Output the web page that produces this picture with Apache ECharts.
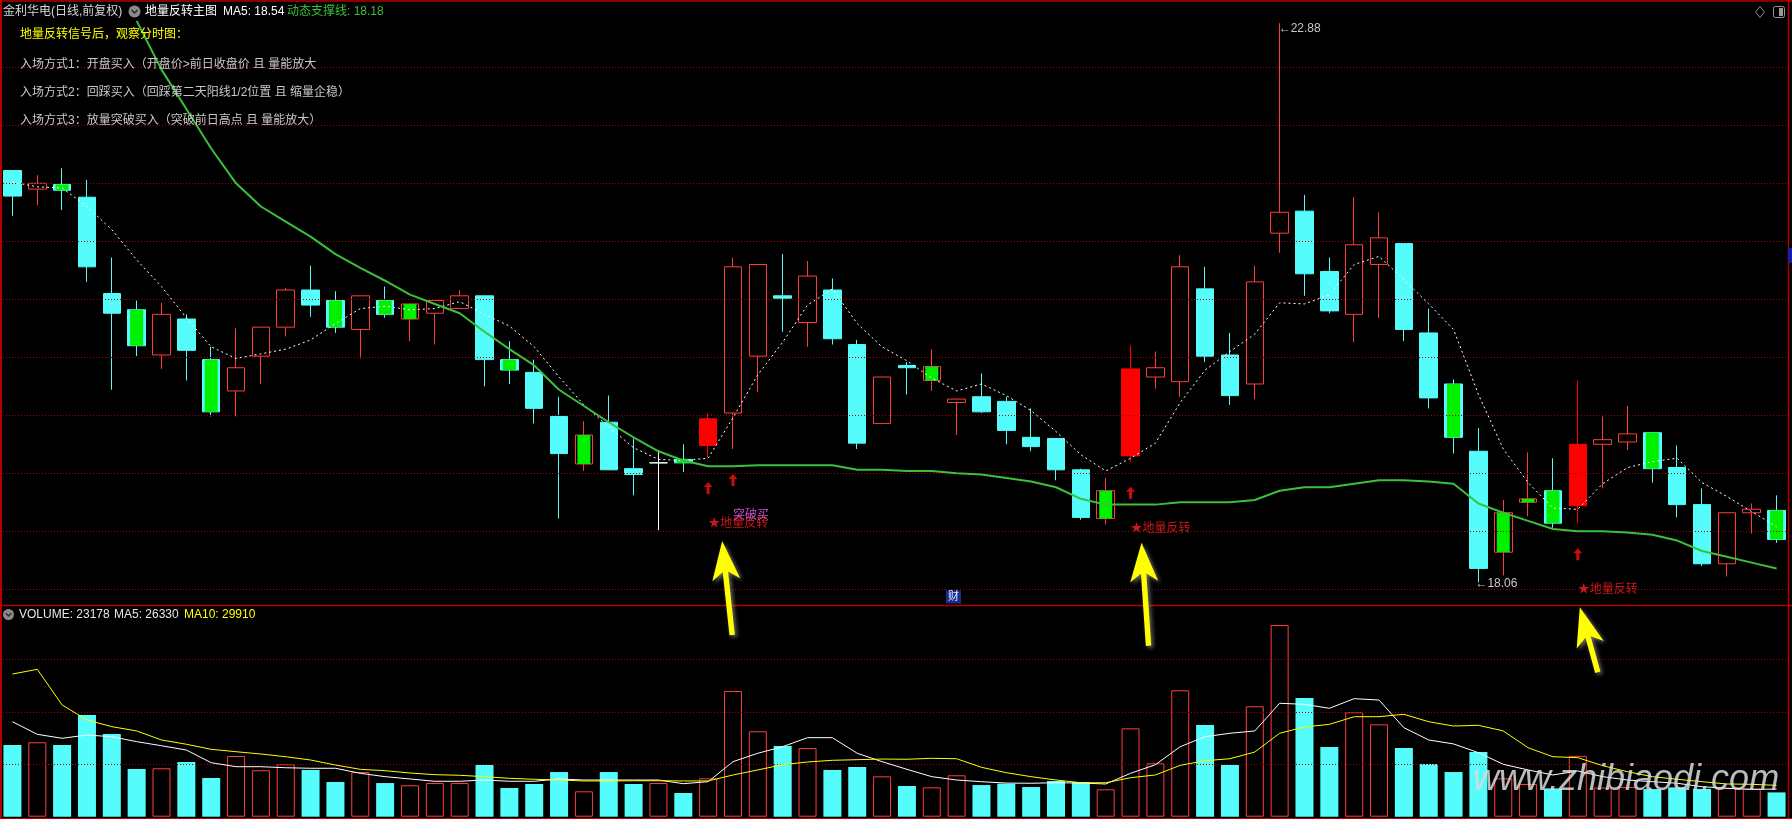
<!DOCTYPE html>
<html>
<head>
<meta charset="utf-8">
<title>金利华电 地量反转主图</title>
<script src="https://cdn.jsdelivr.net/npm/echarts@6.0.0/dist/echarts.min.js"></script>
<style>
html,body{margin:0;padding:0;background:#000;overflow:hidden;}
#chart{width:1792px;height:819px;}
</style>
</head>
<body>
<div id="chart"></div>
<script>
// ================= DATA =================
const openP = [
  21.61, 21.45, 21.49, 21.38, 20.55, 20.41, 20.02, 20.33, 19.98, 19.71,
  20.01, 20.26, 20.58, 20.49, 20.24, 20.49, 20.33, 20.38, 20.42, 20.53,
  19.98, 19.87, 19.49, 19.08, 19.44, 19.04, 19.09, 19.12, 19.24, 19.52,
  20.01, 20.53, 20.30, 20.58, 20.11, 19.43, 19.93, 19.80, 19.61, 19.66,
  19.62, 19.31, 19.30, 19.03, 18.61, 19.15, 19.83, 19.79, 20.59, 20.02,
  19.77, 21.07, 21.26, 20.74, 20.37, 20.80, 20.98, 20.21, 19.77, 19.19,
  18.32, 18.75, 18.85, 18.72, 19.25, 19.27, 19.35, 19.05, 18.73, 18.22,
  18.66, 18.68
];
const closeP = [
  21.39, 21.50, 21.44, 20.78, 20.38, 20.10, 20.37, 20.06, 19.53, 19.91,
  20.26, 20.58, 20.45, 20.26, 20.53, 20.37, 20.46, 20.49, 20.53, 19.98,
  19.89, 19.56, 19.17, 19.33, 19.03, 18.99, 19.09, 19.09, 19.47, 20.78,
  20.80, 20.51, 20.70, 20.16, 19.26, 19.83, 19.91, 19.92, 19.64, 19.53,
  19.37, 19.23, 19.03, 18.62, 18.85, 19.90, 19.91, 20.78, 20.01, 19.67,
  20.65, 21.25, 20.72, 20.40, 20.97, 21.03, 20.24, 19.65, 19.31, 18.18,
  18.66, 18.78, 18.57, 19.25, 19.29, 19.34, 19.04, 18.73, 18.22, 18.66,
  18.69, 18.43
];
const highP = [
  21.61, 21.57, 21.63, 21.53, 20.86, 20.49, 20.47, 20.37, 20.09, 20.25,
  20.26, 20.60, 20.79, 20.57, 20.53, 20.61, 20.46, 20.49, 20.58, 20.53,
  20.14, 19.98, 19.66, 19.45, 19.67, 19.30, 19.20, 19.25, 19.52, 20.86,
  20.80, 20.89, 20.83, 20.68, 20.15, 19.83, 19.96, 20.07, 19.64, 19.86,
  19.66, 19.56, 19.30, 19.04, 18.96, 20.10, 20.05, 20.88, 20.78, 20.21,
  20.79, 22.88, 21.40, 20.86, 21.38, 21.25, 20.98, 20.42, 19.81, 19.39,
  18.77, 19.18, 19.13, 19.80, 19.49, 19.58, 19.35, 19.24, 18.87, 18.66,
  18.74, 18.81
];
const lowP = [
  21.22, 21.31, 21.27, 20.65, 19.72, 20.01, 19.90, 19.80, 19.49, 19.49,
  19.77, 20.18, 20.35, 20.21, 19.99, 20.34, 20.14, 20.11, 20.42, 19.75,
  19.77, 19.43, 18.61, 19.02, 19.03, 18.81, 18.51, 19.01, 19.14, 19.21,
  19.70, 20.22, 20.09, 20.11, 19.21, 19.43, 19.68, 19.71, 19.33, 19.52,
  19.25, 19.19, 18.94, 18.60, 18.56, 19.10, 19.73, 19.66, 19.96, 19.59,
  19.64, 20.90, 20.53, 20.38, 20.13, 20.34, 20.14, 19.56, 19.17, 18.06,
  18.12, 18.63, 18.53, 18.57, 18.87, 19.20, 18.92, 18.62, 18.20, 18.11,
  18.48, 18.40
];
const volume = [
  68400, 71000, 68400, 97000, 78900, 45500, 46200, 52200, 36900, 57900,
  44300, 50000, 44600, 33100, 42600, 32100, 30000, 32100, 32100, 49300,
  27400, 31200, 42600, 24200, 42600, 31200, 32100, 22600, 36600, 119900,
  81500, 67400, 65500, 44600, 47400, 38500, 29300, 28000, 39500, 30200,
  31500, 28300, 34100, 33100, 26100, 84300, 50900, 120600, 87500, 49300,
  105300, 182900, 113200, 66500, 99600, 88100, 65500, 50300, 42600, 61700,
  36600, 31200, 27000, 58000, 27800, 28300, 26350, 28000, 26500, 27300,
  26672, 23178
];
const priceMA5 = [
  21.51, 21.47, 21.46, 21.30, 21.10, 20.84, 20.61, 20.34, 20.09, 19.99,
  20.03, 20.07, 20.15, 20.29, 20.42, 20.44, 20.41, 20.42, 20.48, 20.37,
  20.27, 20.09, 19.83, 19.59, 19.40, 19.22, 19.12, 19.11, 19.13, 19.48,
  19.85, 20.13, 20.45, 20.59, 20.29, 20.09, 19.97, 19.82, 19.71, 19.77,
  19.67, 19.54, 19.36, 19.16, 19.02, 19.13, 19.26, 19.61, 19.89, 20.05,
  20.20, 20.47, 20.46, 20.54, 20.80, 20.87, 20.67, 20.46, 20.24, 19.68,
  19.21, 18.92, 18.70, 18.69, 18.91, 19.05, 19.10, 19.13, 18.92, 18.80,
  18.67, 18.54
];
const supportLine = [
  null, null, null, null, null, 22.90, 22.48, 22.14, 21.80, 21.50,
  21.30, 21.17, 21.04, 20.89, 20.77, 20.66, 20.54, 20.46, 20.38, 20.22,
  20.07, 19.93, 19.72, 19.58, 19.44, 19.31, 19.19, 19.11, 19.06, 19.06,
  19.07, 19.07, 19.07, 19.07, 19.03, 19.03, 19.02, 19.02, 19.00, 18.99,
  18.96, 18.93, 18.88, 18.78, 18.73, 18.73, 18.73, 18.75, 18.75, 18.75,
  18.77, 18.85, 18.88, 18.88, 18.91, 18.94, 18.94, 18.93, 18.91, 18.74,
  18.66, 18.59, 18.52, 18.50, 18.50, 18.49, 18.47, 18.42, 18.33, 18.28,
  18.23, 18.18
];
const volMA5 = [
  90600, 78600, 74800, 77900, 76300, 71600, 67700, 63600, 51500, 47700,
  47700, 46700, 46200, 46200, 41400, 38200, 36000, 33800, 33800, 35000,
  33800, 33800, 36000, 35000, 35000, 35000, 35000, 31500, 33400, 52500,
  60500, 66800, 75400, 75400, 60500, 52500, 45200, 38200, 35000, 33400,
  32100, 31900, 32400, 32100, 31200, 41400, 49600, 66800, 76300, 79600,
  81800, 108200, 107200, 103400, 112600, 111300, 84900, 73200, 69400, 61100,
  50000, 44600, 39800, 43600, 38200, 35000, 33400, 31900, 28600, 27100,
  26100, 26330
];
const volMA10 = [
  136100, 140600, 106600, 92300, 85900, 81800, 73200, 69100, 64300, 62000,
  59800, 57200, 54100, 49300, 45200, 43900, 41700, 40100, 39500, 38200,
  36600, 35700, 35000, 34100, 34100, 34300, 34300, 34100, 34100, 39800,
  44600, 49600, 52200, 53800, 54400, 55000, 54800, 55700, 55300, 47100,
  42000, 38200, 35000, 32400, 32400, 37200, 39800, 49000, 53400, 55300,
  61700, 79600, 85600, 88100, 95400, 95400, 97700, 90600, 86500, 87200,
  81800, 65800, 57200, 56300, 48700, 42900, 38200, 35700, 33400, 31200,
  30900, 29910
];
const priceGridTicks = [18.0, 18.5, 19.0, 19.5, 20.0, 20.5, 21.0, 21.5, 22.0, 22.5];
const volGridTicks = [50000, 100000, 150000];
const greenDays = [2, 5, 8, 13, 15, 16, 20, 23, 27, 37, 44, 58, 60, 61, 62, 66, 71];
const signalDays = [28, 45, 63];
const dojiDays = [26];
const arrowDays = [28, 29, 45, 63];
const reversalDays = [28, 45, 63];
const breakoutDays = [29];
const categories = openP.map((_, i) => String(i + 1));

const titleText = '金利华电(日线,前复权)';
const indicatorName = '地量反转主图';
const noteTitle = '地量反转信号后，观察分时图：';
const noteLines = [
  '入场方式1：开盘买入（开盘价>前日收盘价 且 量能放大',
  '入场方式2：回踩买入（回踩第二天阳线1/2位置 且 缩量企稳）',
  '入场方式3：放量突破买入（突破前日高点 且 量能放大）'
];

// ================= STYLE =================
const CYAN = '#54fcfc', RED = '#ff3c3c', SIG = '#ff0000', GREEN = '#00f000';
const FRAME = '#b40000', GRIDC = '#a00000', SUPPORT = '#3cc03c';
const FONT = '"Liberation Sans","Noto Sans CJK SC",sans-serif';
const PRICE_MIN = 17.8647, PRICE_MAX = 23.0802, VOL_MAX = 201000;

const chart = echarts.init(document.getElementById('chart'), null,
  { renderer: 'canvas', width: 1792, height: 819, devicePixelRatio: 1 });

const candleData = openP.map((o, i) => {
  const item = { value: [o, closeP[i], lowP[i], highP[i]] };
  if (signalDays.includes(i)) item.itemStyle = { color: SIG, color0: SIG, borderColor: SIG, borderColor0: SIG };
  if (dojiDays.includes(i)) item.itemStyle = { color: '#fff', color0: '#fff', borderColor: '#fff', borderColor0: '#fff', borderColorDoji: '#fff' };
  return item;
});

const volData = volume.map((v, i) => ({
  value: v,
  itemStyle: closeP[i] >= openP[i]
    ? { color: 'rgba(0,0,0,0)', borderColor: RED, borderWidth: 1 }
    : { color: CYAN, borderWidth: 0 }
}));

const option = {
  backgroundColor: '#000',
  animation: false,
  grid: [
    { left: -1, width: 1790, top: 0, height: 605 },
    { left: -1, width: 1790, top: 606, height: 210.7 }
  ],
  xAxis: [
    { type: 'category', gridIndex: 0, data: categories, boundaryGap: true, show: false },
    { type: 'category', gridIndex: 1, data: categories, boundaryGap: true, show: false }
  ],
  yAxis: [
    { type: 'value', gridIndex: 0, min: PRICE_MIN, max: PRICE_MAX, show: false, splitLine: { show: false } },
    { type: 'value', gridIndex: 1, min: 0, max: VOL_MAX, show: false, splitLine: { show: false } }
  ],
  series: [
    { type: 'line', xAxisIndex: 0, yAxisIndex: 0, data: closeP, showSymbol: false, silent: true, z: 1,
      lineStyle: { opacity: 0 },
      markLine: { silent: true, symbol: ['none', 'none'], label: { show: false }, animation: false,
        lineStyle: { color: GRIDC, type: [1, 2], width: 1 }, emphasis: { disabled: true },
        data: priceGridTicks.map(v => ({ yAxis: v })) } },
    { type: 'candlestick', xAxisIndex: 0, yAxisIndex: 0, barWidth: 18, z: 3, data: candleData,
      itemStyle: { color: 'rgba(0,0,0,0)', color0: CYAN, borderColor: RED, borderColor0: CYAN, borderWidth: 1 },
      emphasis: { disabled: true } },
    { type: 'custom', xAxisIndex: 0, yAxisIndex: 0, z: 4,
      data: greenDays.map(i => [i, openP[i], closeP[i]]),
      encode: { x: 0, y: [1, 2] },
      renderItem: (params, api) => {
        const i = api.value(0);
        const p1 = api.coord([i, api.value(1)]);
        const p2 = api.coord([i, api.value(2)]);
        const w = 13;
        const h = Math.max(2, Math.abs(p1[1] - p2[1]));
        return { type: 'rect', shape: { x: p1[0] - w / 2, y: Math.min(p1[1], p2[1]), width: w, height: h },
          style: { fill: GREEN } };
      } },
    { type: 'line', xAxisIndex: 0, yAxisIndex: 0, data: priceMA5, showSymbol: false, symbol: 'none', z: 5,
      lineStyle: { color: '#ffffff', width: 1, type: [2, 3] }, emphasis: { disabled: true } },
    { type: 'line', xAxisIndex: 0, yAxisIndex: 0, data: supportLine, showSymbol: false, symbol: 'none', z: 5,
      lineStyle: { color: SUPPORT, width: 2 }, emphasis: { disabled: true } },
    { type: 'scatter', xAxisIndex: 0, yAxisIndex: 0, z: 6,
      data: arrowDays.map(i => [i, lowP[i]]),
      symbol: 'path://M4.5,0 L9,5 L6,5 L6,12 L3,12 L3,5 L0,5 Z',
      symbolSize: [9, 12], symbolOffset: [0, 31], itemStyle: { color: '#ff1010' } },
    { type: 'scatter', xAxisIndex: 0, yAxisIndex: 0, z: 7,
      data: reversalDays.map(i => [i, lowP[i]]), symbolSize: 1, itemStyle: { color: 'rgba(0,0,0,0)' },
      label: { show: true, position: 'bottom', distance: 60, align: 'left', formatter: '★地量反转',
        color: '#ff1e1e', fontSize: 12, fontFamily: FONT } },
    { type: 'scatter', xAxisIndex: 0, yAxisIndex: 0, z: 7,
      data: breakoutDays.map(i => [i, lowP[i]]), symbolSize: 1, itemStyle: { color: 'rgba(0,0,0,0)' },
      label: { show: true, position: 'bottom', distance: 60, align: 'left', formatter: '突破买',
        color: '#ff66ff', fontSize: 12, fontFamily: FONT } },
    { type: 'line', xAxisIndex: 1, yAxisIndex: 1, data: volume, showSymbol: false, silent: true, z: 1,
      lineStyle: { opacity: 0 },
      markLine: { silent: true, symbol: ['none', 'none'], label: { show: false }, animation: false,
        lineStyle: { color: GRIDC, type: [1, 2], width: 1 }, emphasis: { disabled: true },
        data: volGridTicks.map(v => ({ yAxis: v })) } },
    { type: 'bar', xAxisIndex: 1, yAxisIndex: 1, barWidth: 18, z: 3, data: volData, emphasis: { disabled: true } },
    { type: 'line', xAxisIndex: 1, yAxisIndex: 1, data: volMA5, showSymbol: false, symbol: 'none', z: 5,
      lineStyle: { color: '#ffffff', width: 1 }, emphasis: { disabled: true } },
    { type: 'line', xAxisIndex: 1, yAxisIndex: 1, data: volMA10, showSymbol: false, symbol: 'none', z: 5,
      lineStyle: { color: '#ffff00', width: 1 }, emphasis: { disabled: true } }
  ]
};
chart.setOption(option);

// ================= ANNOTATIONS =================
const px = (i, v) => chart.convertToPixel({ xAxisIndex: 0, yAxisIndex: 0 }, [i, v]);
const T = (x, y, text, fill, size, extra) => ({
  type: 'text', x: x, y: y, z: 100,
  style: Object.assign({ text: text, fill: fill, fontSize: size || 12, fontFamily: FONT,
    verticalAlign: 'middle', align: 'left' }, extra || {})
});
const L = (x1, y1, x2, y2, stroke, w) => ({ type: 'line', z: 90, silent: true,
  shape: { x1: x1, y1: y1, x2: x2, y2: y2 }, style: { stroke: stroke, lineWidth: w || 1 } });

const g = [];
// frame
g.push(L(1, 0, 1, 819, FRAME, 2));
g.push(L(0, 1, 1792, 1, FRAME, 1.5));
g.push(L(0, 605.5, 1792, 605.5, FRAME, 1.5));
g.push(L(1788.5, 0, 1788.5, 819, FRAME, 1.5));
g.push(L(0, 818.5, 1792, 818.5, FRAME, 1));

// header
g.push(T(3, 11.5, titleText, '#d8d8d8', 12));
g.push({ type: 'circle', z: 100, shape: { cx: 134.5, cy: 11.5, r: 6 }, style: { fill: '#8a8a8a' } });
g.push({ type: 'polyline', z: 101, shape: { points: [[131.5, 10], [134.5, 13], [137.5, 10]] },
  style: { stroke: '#2a2a2a', lineWidth: 1.5, fill: null } });
g.push(T(145, 11.5, indicatorName, '#ffffff', 12));
g.push(T(223, 11.5, 'MA5: ' + priceMA5[priceMA5.length - 1].toFixed(2), '#ffffff', 12));
g.push(T(287, 11.5, '动态支撑线: ' + supportLine[supportLine.length - 1].toFixed(2), SUPPORT, 12));

// notes
g.push(T(20, 35, noteTitle, '#ffff00', 12));
noteLines.forEach((s, k) => g.push(T(20, 64.5 + 28 * k, s, '#c8c8c8', 12)));

// top right icons
g.push({ type: 'polygon', z: 100, shape: { points: [[1760, 6.5], [1764.5, 12], [1760, 17.5], [1755.5, 12]] },
  style: { stroke: '#8a8a8a', fill: null, lineWidth: 1 } });
g.push({ type: 'rect', z: 100, shape: { x: 1773.5, y: 6.5, width: 11, height: 11, r: 2 },
  style: { stroke: '#9a9a9a', fill: null, lineWidth: 1 } });
g.push({ type: 'rect', z: 100, shape: { x: 1779, y: 8, width: 4, height: 8 }, style: { fill: '#9a9a9a' } });

// high / low labels
const hiIdx = highP.indexOf(Math.max.apply(null, highP));
const loIdx = lowP.indexOf(Math.min.apply(null, lowP));
const hp = px(hiIdx, highP[hiIdx]);
const lp = px(loIdx, lowP[loIdx]);
g.push(T(hp[0] - 1, hp[1] + 5, '←' + highP[hiIdx].toFixed(2), '#c8c8c8', 12));
g.push(T(lp[0] - 3, lp[1] + 1.5, '←' + lowP[loIdx].toFixed(2), '#c8c8c8', 12));

// small marker
g.push(T(946, 597, '财', '#e0e8ff', 11, { backgroundColor: '#14308c', padding: [1, 2] }));
g.push({ type: 'rect', z: 100, shape: { x: 1788, y: 248, width: 4, height: 15 }, style: { fill: '#1a1aa8' } });

// volume header
g.push({ type: 'circle', z: 100, shape: { cx: 8.5, cy: 614.5, r: 5.5 }, style: { fill: '#8a8a8a' } });
g.push({ type: 'polyline', z: 101, shape: { points: [[5.8, 613.2], [8.5, 615.9], [11.2, 613.2]] },
  style: { stroke: '#2a2a2a', lineWidth: 1.4, fill: null } });
g.push(T(19, 614.5, 'VOLUME: ' + volume[volume.length - 1], '#e6e6e6', 12));
g.push(T(114, 614.5, 'MA5: ' + volMA5[volMA5.length - 1], '#e6e6e6', 12));
g.push(T(184, 614.5, 'MA10: ' + volMA10[volMA10.length - 1], '#ffff00', 12));

// yellow hand-drawn arrows pointing at the signal labels
const arrowGeom = [
  { dxTip: 14, dyTip: 84, dxTail: 24, dyTail: 178 },
  { dxTip: 11, dyTip: 81, dxTail: 18, dyTail: 184 },
  { dxTip: 2, dyTip: 84, dxTail: 20, dyTail: 149 }
];
function arrowPts(tip, tail) {
  const dx = tail[0] - tip[0], dy = tail[1] - tip[1];
  const len = Math.hypot(dx, dy);
  const ux = dx / len, uy = dy / len, nx = -uy, ny = ux;
  const P = (a, b) => [tip[0] + ux * a + nx * b, tip[1] + uy * a + ny * b];
  const hl = 39, hw = 14, nk = 31, sw = 2.7;
  return [P(0, 0), P(hl, hw), P(nk, sw), P(len, sw), P(len, -sw), P(nk, -sw), P(hl, -hw)];
}
reversalDays.forEach((d, k) => {
  const base = px(d, lowP[d]);
  const a = arrowGeom[k];
  const tip = [base[0] + a.dxTip, base[1] + a.dyTip];
  const tail = [base[0] + a.dxTail, base[1] + a.dyTail];
  g.push({ type: 'polygon', z: 110, shape: { points: arrowPts(tip, tail) },
    style: { fill: '#ffff00', shadowBlur: 4, shadowColor: 'rgba(120,120,120,0.9)', shadowOffsetX: 2, shadowOffsetY: 2 } });
});

// watermark
g.push({ type: 'text', x: 1473, y: 780, z: 120,
  style: { text: 'www.zhibiaodi.com', fill: 'rgba(215,220,220,0.85)', fontSize: 36,
    fontFamily: '"Liberation Sans",sans-serif', fontStyle: 'italic', verticalAlign: 'middle', align: 'left',
    shadowColor: 'rgba(0,140,140,0.9)', shadowBlur: 5, shadowOffsetX: 1, shadowOffsetY: 3 } });

chart.setOption({ graphic: g });
</script>
</body>
</html>
